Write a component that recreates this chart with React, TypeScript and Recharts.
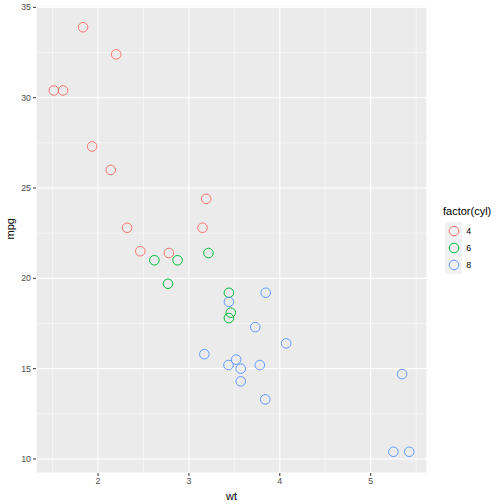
import { CartesianGrid, ReferenceLine, Scatter, ScatterChart, XAxis, YAxis } from "recharts";

// mtcars: weight (1000 lbs), miles per gallon, cylinders
const wt = [
  2.62, 2.875, 2.32, 3.215, 3.44, 3.46, 3.57, 3.19, 3.15, 3.44, 3.44,
  4.07, 3.73, 3.78, 5.25, 5.424, 5.345, 2.2, 1.615, 1.835, 2.465, 3.52,
  3.435, 3.84, 3.845, 1.935, 2.14, 1.513, 3.17, 2.77, 3.57, 2.78,
];
const mpg = [
  21.0, 21.0, 22.8, 21.4, 18.7, 18.1, 14.3, 24.4, 22.8, 19.2, 17.8,
  16.4, 17.3, 15.2, 10.4, 10.4, 14.7, 32.4, 30.4, 33.9, 21.5, 15.5,
  15.2, 13.3, 19.2, 27.3, 26.0, 30.4, 15.8, 19.7, 15.0, 21.4,
];
const cyl = [
  6, 6, 4, 6, 8, 6, 8, 4, 4, 6, 6, 8, 8, 8, 8, 8, 8, 4, 4, 4, 4, 8,
  8, 8, 8, 4, 4, 4, 8, 6, 8, 4,
];
const levels = ["4", "6", "8"];
const xTicks = [2, 3, 4, 5];
const yTicks = [10, 15, 20, 25, 30, 35];
const xMinor = [1.5, 2.5, 3.5, 4.5, 5.5];
const yMinor = [12.5, 17.5, 22.5, 27.5, 32.5];

const COLORS = ["#F8766D", "#00BA38", "#619CFF"];
const FONT = "'Liberation Sans', Arial, sans-serif";

const groups = levels.map((level) =>
  wt
    .map((w, i) => ({ wt: w, mpg: mpg[i], cyl: String(cyl[i]) }))
    .filter((d) => d.cyl === level)
);

function ring(color: string) {
  return (props: any) => (
    <circle cx={props.cx} cy={props.cy} r={4.8} fill="none" stroke={color} strokeWidth={1} />
  );
}

function LegendBox() {
  return (
    <div style={{ position: "absolute", left: 443, top: 205, fontFamily: FONT, color: "#000" }}>
      <div style={{ fontSize: 11, lineHeight: "13px", marginBottom: 4 }}>factor(cyl)</div>
      {levels.map((level, i) => (
        <div key={level} style={{ display: "flex", alignItems: "center", height: 17.3 }}>
          <div
            style={{
              width: 17.3,
              height: 17.3,
              marginLeft: 2,
              background: "#F2F2F2",
              display: "flex",
              alignItems: "center",
              justifyContent: "center",
            }}
          >
            <svg width={12} height={12}>
              <circle cx={6} cy={6} r={4.8} fill="none" stroke={COLORS[i]} strokeWidth={1} />
            </svg>
          </div>
          <span style={{ fontSize: 8.8, marginLeft: 4, color: "#000" }}>{level}</span>
        </div>
      ))}
    </div>
  );
}

export default function App() {
  const tick = { fill: "#4D4D4D", fontSize: 8.8, fontFamily: FONT };
  return (
    <div style={{ position: "absolute", left: 0, top: 0, width: 504, height: 504, background: "#fff" }}>
      <ScatterChart width={504} height={504} margin={{ top: 6, right: 77, bottom: 0, left: 0 }}>
        <CartesianGrid fill="#EBEBEB" stroke="#FFFFFF" strokeWidth={1.1} />
        {xMinor.map((v) => (
          <ReferenceLine key={"x" + v} x={v} stroke="#FFFFFF" strokeWidth={0.5} />
        ))}
        {yMinor.map((v) => (
          <ReferenceLine key={"y" + v} y={v} stroke="#FFFFFF" strokeWidth={0.5} />
        ))}
        <XAxis
          type="number"
          dataKey="wt"
          domain={[1.3175, 5.6196]}
          ticks={xTicks}
          allowDataOverflow
          height={31}
          axisLine={false}
          tickSize={3}
          tickMargin={2}
          tickLine={{ stroke: "#333333" }}
          tick={tick}
          label={{ value: "wt", position: "insideBottom", offset: 4, fill: "#000", fontSize: 11, fontFamily: FONT }}
        />
        <YAxis
          type="number"
          dataKey="mpg"
          domain={[9.225, 35.075]}
          ticks={yTicks}
          allowDataOverflow
          width={36}
          axisLine={false}
          tickSize={3}
          tickMargin={2}
          tickLine={{ stroke: "#333333" }}
          tick={tick}
          label={{ value: "mpg", angle: -90, position: "insideLeft", offset: 10, fill: "#000", fontSize: 11, fontFamily: FONT }}
        />
        {groups.map((data, i) => (
          <Scatter
            key={levels[i]}
            name={levels[i]}
            data={data}
            shape={ring(COLORS[i])}
            isAnimationActive={false}
          />
        ))}
      </ScatterChart>
      <LegendBox />
    </div>
  );
}
